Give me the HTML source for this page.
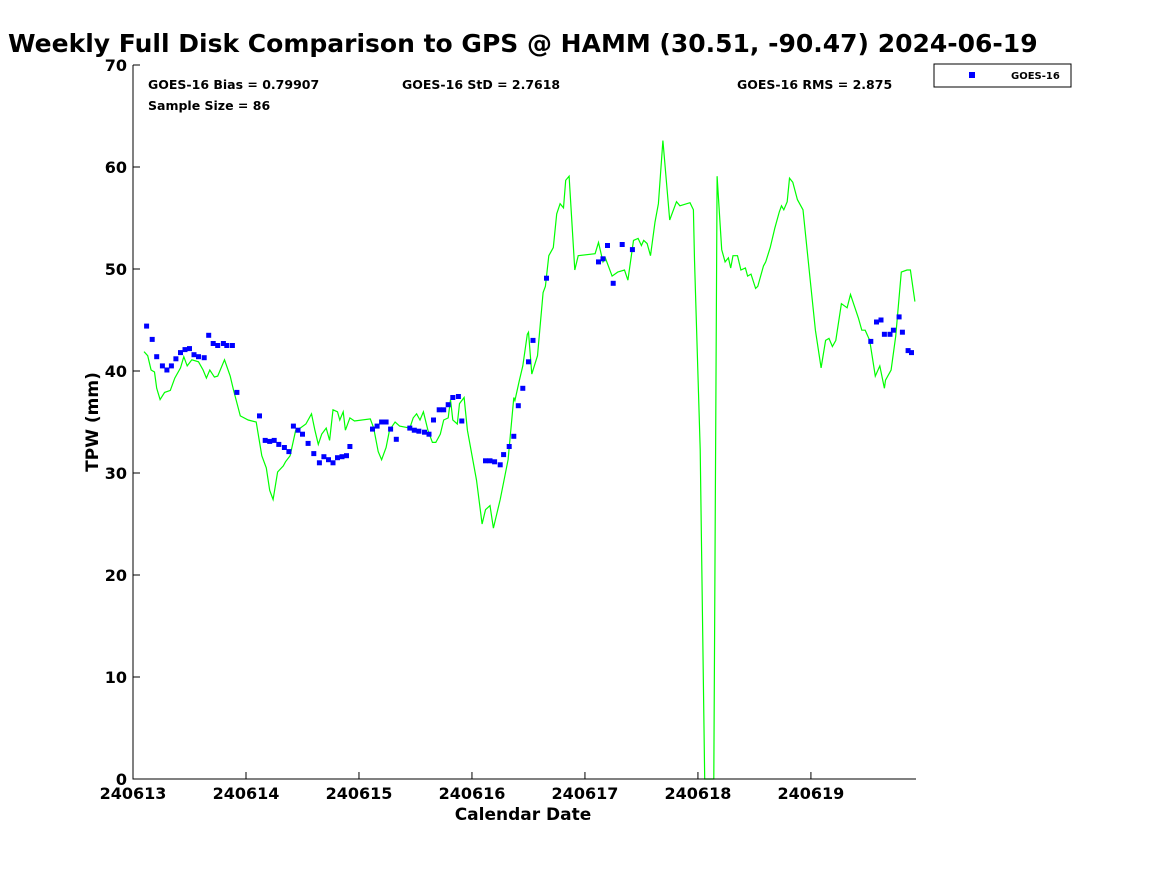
<!DOCTYPE html>
<html><head><meta charset="utf-8">
<style>
html,body{margin:0;padding:0;background:#fff;}
svg{display:block;font-family:"DejaVu Sans","Liberation Sans",sans-serif;font-weight:bold;}
</style></head>
<body>
<svg id="chart" width="1167" height="875" viewBox="0 0 1167 875">
<text x="8" y="52" font-size="25" fill="#000">Weekly Full Disk Comparison to GPS @ HAMM (30.51, -90.47) 2024-06-19</text>
<g font-size="12.5" fill="#000">
<text x="148" y="89">GOES-16 Bias = 0.79907</text>
<text x="402" y="89">GOES-16 StD = 2.7618</text>
<text x="737" y="89">GOES-16 RMS = 2.875</text>
<text x="148" y="110">Sample Size = 86</text>
</g>
<g>
<rect x="934" y="64" width="137" height="23" fill="#fff" stroke="#000" stroke-width="1"/>
<rect x="969" y="72" width="6" height="6" fill="#0000ff"/>
<text x="1011" y="79" font-size="10">GOES-16</text>
</g>
<g id="plot"></g>
<text x="523" y="820" font-size="17" text-anchor="middle">Calendar Date</text>
<text transform="translate(98,422) rotate(-90)" font-size="17" text-anchor="middle">TPW (mm)</text>
</svg>
<script>
const xTickLabels=["240613","240614","240615","240616","240617","240618","240619"];
const yTickValues=[0,10,20,30,40,50,60,70];
const gpsDays=[0.097,0.13,0.16,0.19,0.21,0.24,0.28,0.33,0.37,0.42,0.45,0.48,0.52,0.58,0.62,0.65,0.68,0.72,0.75,0.81,0.86,0.89,0.95,1.02,1.09,1.14,1.18,1.21,1.24,1.28,1.33,1.35,1.39,1.44,1.48,1.53,1.58,1.61,1.64,1.67,1.71,1.74,1.77,1.81,1.83,1.86,1.88,1.92,1.96,2.10,2.13,2.17,2.20,2.24,2.27,2.32,2.36,2.45,2.48,2.51,2.54,2.57,2.61,2.65,2.68,2.72,2.75,2.79,2.81,2.83,2.87,2.89,2.93,2.96,3.04,3.09,3.12,3.16,3.19,3.25,3.32,3.37,3.38,3.42,3.45,3.49,3.50,3.53,3.58,3.63,3.65,3.68,3.72,3.75,3.78,3.81,3.83,3.86,3.91,3.94,4.09,4.12,4.16,4.18,4.24,4.29,4.35,4.38,4.43,4.47,4.50,4.52,4.55,4.58,4.62,4.65,4.69,4.75,4.81,4.84,4.93,4.96,4.97,5.02,5.06,5.14,5.17,5.21,5.24,5.27,5.29,5.31,5.35,5.38,5.42,5.44,5.47,5.51,5.53,5.58,5.60,5.64,5.68,5.72,5.74,5.76,5.79,5.81,5.84,5.88,5.93,5.99,6.04,6.09,6.13,6.16,6.19,6.22,6.27,6.32,6.35,6.42,6.45,6.48,6.52,6.57,6.61,6.65,6.66,6.71,6.75,6.80,6.85,6.88,6.92];
const gpsValues=[41.9,41.5,40.1,39.9,38.3,37.2,37.9,38.1,39.3,40.3,41.4,40.5,41.1,40.9,40.1,39.3,40.1,39.4,39.5,41.1,39.5,38.1,35.6,35.2,35.0,31.7,30.5,28.3,27.4,30.1,30.7,31.1,31.7,34.2,34.4,34.8,35.8,34.2,32.8,33.8,34.4,33.2,36.2,36.0,35.2,36.0,34.2,35.4,35.1,35.3,34.4,32.1,31.3,32.5,34.2,35.0,34.6,34.4,35.4,35.8,35.2,36.0,34.2,33.0,33.0,33.8,35.2,35.4,37.2,35.2,34.8,36.8,37.4,34.2,29.3,25.0,26.4,26.8,24.6,27.4,31.3,37.4,37.1,39.1,40.5,43.6,43.8,39.7,41.5,47.7,48.3,51.3,52.1,55.4,56.4,56.0,58.7,59.1,49.9,51.3,51.5,52.6,50.7,51.1,49.3,49.7,49.9,48.9,52.8,53.0,52.3,52.8,52.5,51.3,54.6,56.4,62.6,54.8,56.6,56.2,56.5,55.8,50.9,32.3,0,0,59.1,51.9,50.7,51.1,50.1,51.3,51.3,49.9,50.1,49.3,49.5,48.1,48.3,50.3,50.7,52.1,54.0,55.6,56.2,55.8,56.6,58.9,58.5,56.8,55.8,49.3,44.0,40.3,43.0,43.2,42.4,43.0,46.6,46.2,47.5,45.2,44.0,44.0,43.0,39.5,40.5,38.3,39.1,40.1,43.4,49.7,49.9,49.9,46.8];
const goesDays=[0.12,0.17,0.21,0.26,0.30,0.34,0.38,0.42,0.46,0.50,0.54,0.58,0.63,0.67,0.71,0.75,0.80,0.83,0.88,0.92,1.12,1.17,1.21,1.25,1.29,1.34,1.38,1.42,1.46,1.50,1.55,1.60,1.65,1.69,1.73,1.77,1.81,1.85,1.89,1.92,2.12,2.16,2.20,2.24,2.28,2.33,2.45,2.49,2.53,2.58,2.62,2.66,2.71,2.75,2.79,2.83,2.88,2.91,3.12,3.16,3.20,3.25,3.28,3.33,3.37,3.41,3.45,3.50,3.54,3.66,4.12,4.16,4.20,4.25,4.33,4.42,6.53,6.58,6.62,6.65,6.70,6.73,6.78,6.81,6.86,6.89];
const goesValues=[44.4,43.1,41.4,40.5,40.1,40.5,41.2,41.8,42.1,42.2,41.6,41.4,41.3,43.5,42.7,42.5,42.7,42.5,42.5,37.9,35.6,33.2,33.1,33.2,32.8,32.5,32.1,34.6,34.2,33.8,32.9,31.9,31.0,31.6,31.3,31.0,31.5,31.6,31.7,32.6,34.3,34.6,35.0,35.0,34.3,33.3,34.4,34.2,34.1,34.0,33.8,35.2,36.2,36.2,36.7,37.4,37.5,35.1,31.2,31.2,31.1,30.8,31.8,32.6,33.6,36.6,38.3,40.9,43.0,49.1,50.7,51.0,52.3,48.6,52.4,51.9,42.9,44.8,45.0,43.6,43.6,44.0,45.3,43.8,42.0,41.8];

const NS="http://www.w3.org/2000/svg";
const L=133,R=916,T=65,B=779,XMAX=6.93,YMAX=70;
function xs(d){return L+(R-L)*d/XMAX;}
function ys(v){return B-(B-T)*v/YMAX;}
const plot=document.getElementById('plot');
function mk(tag,attrs){const e=document.createElementNS(NS,tag);for(const k in attrs)e.setAttribute(k,attrs[k]);return e;}

// GPS line
let dstr=gpsDays.map((d,i)=>(i?'L':'M')+xs(d).toFixed(1)+' '+ys(gpsValues[i]).toFixed(1)).join(' ');
const line=mk('path',{d:dstr,fill:'none',stroke:'#00ff00','stroke-width':1.2});


plot.appendChild(line);

// GOES points
goesDays.forEach((d,i)=>{
  const p=mk('rect',{x:(xs(d)-2.5).toFixed(1),y:(ys(goesValues[i])-2.5).toFixed(1),width:5,height:5,fill:'#0000ff'});
  
  
  plot.appendChild(p);
});

// axes
const ax=mk('path',{d:`M${L} ${T} L${L} ${B} L${R} ${B}`,fill:'none',stroke:'#000','stroke-width':1});


plot.appendChild(ax);

yTickValues.forEach(v=>{
  const y=ys(v);
  const t=mk('line',{x1:L,x2:L+7,y1:y,y2:y,stroke:'#000'});
  
  
  plot.appendChild(t);
  const tx=mk('text',{x:L-6,y:y+6,'font-size':16,'text-anchor':'end'});
  
  
  tx.textContent=v;
  plot.appendChild(tx);
});
xTickLabels.forEach((lab,i)=>{
  const x=xs(i);
  const t=mk('line',{x1:x,x2:x,y1:B,y2:B-7,stroke:'#000'});
  
  
  plot.appendChild(t);
  const tx=mk('text',{x:x,y:B+20,'font-size':16,'text-anchor':'middle'});
  
  
  tx.textContent=lab;
  plot.appendChild(tx);
});
</script>
</body></html>
